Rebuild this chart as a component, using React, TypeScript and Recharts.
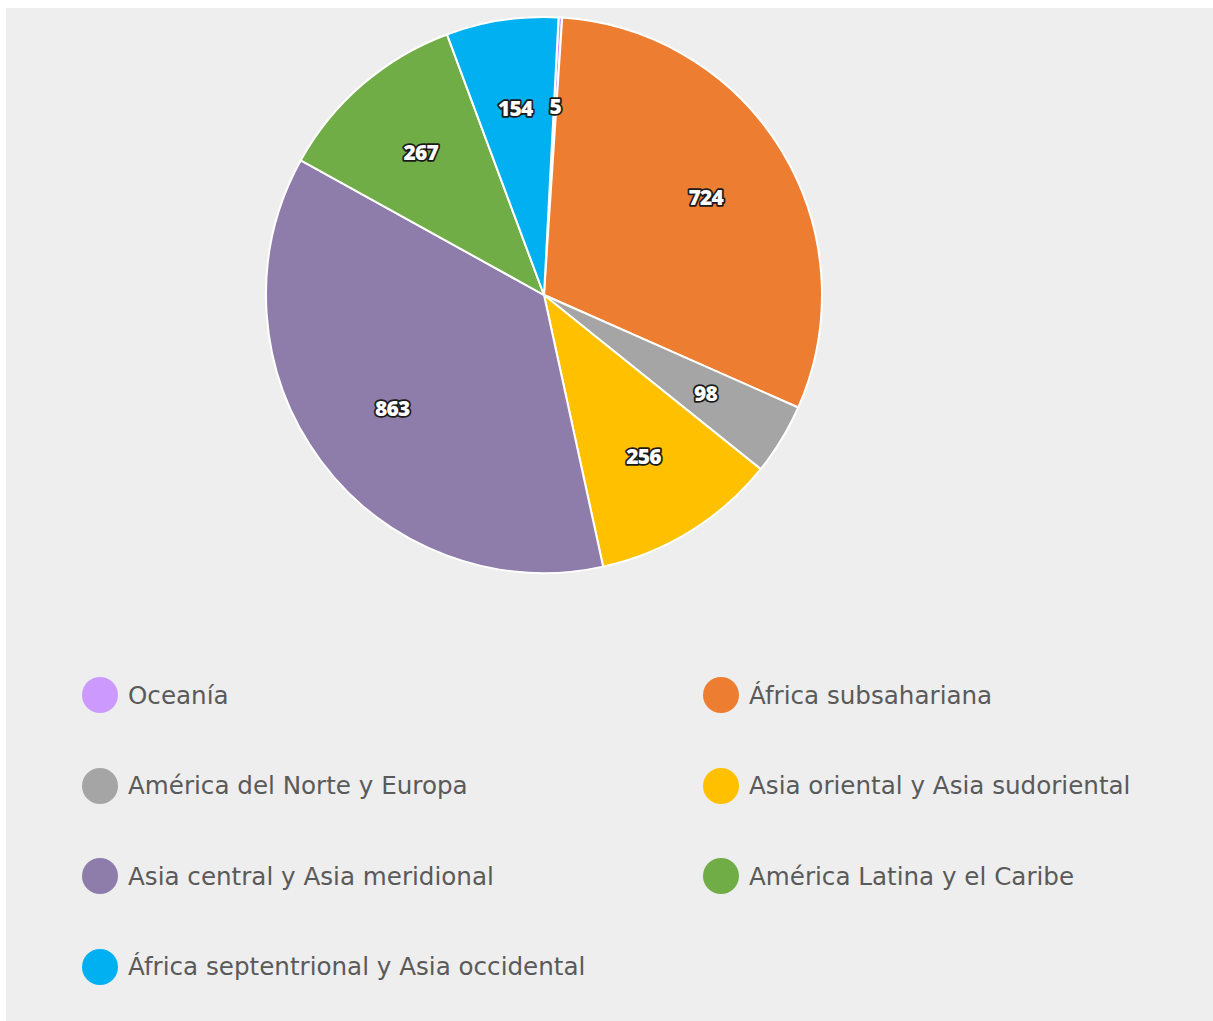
import React from "react";
import { PieChart, Pie, Cell, Legend } from "recharts";

const regions = [
  "Oceanía",
  "África subsahariana",
  "América del Norte y Europa",
  "Asia oriental y Asia sudoriental",
  "Asia central y Asia meridional",
  "América Latina y el Caribe",
  "África septentrional y Asia occidental",
];
const counts = [5, 724, 98, 256, 863, 267, 154];
const colors = ["#cc99ff", "#ed7d31", "#a5a5a5", "#ffc000", "#8e7cab", "#70ad47", "#00b0f0"];

const data = regions.map((name, i) => ({ name, value: counts[i] }));

const RAD = Math.PI / 180;

const renderLabel = (props: any) => {
  const { cx, cy, midAngle, outerRadius, value } = props;
  const r = outerRadius * 0.68;
  const x = cx + r * Math.cos(-midAngle * RAD);
  const y = cy + r * Math.sin(-midAngle * RAD);
  return (
    <text
      x={x}
      y={y}
      textAnchor="middle"
      dominantBaseline="central"
      fill="#ffffff"
      stroke="#1a1a1a"
      strokeWidth={3.5}
      strokeLinejoin="round"
      paintOrder="stroke"
      fontFamily="'Open Sans', sans-serif"
      fontWeight={800}
      fontSize={21}
      letterSpacing={-0.8}
    >
      {value}
    </text>
  );
};

const renderLegend = () => (
  <div
    style={{
      display: "grid",
      gridTemplateColumns: "621px 500px",
      fontFamily: "'DejaVu Sans', sans-serif",
      fontSize: 24.6,
      color: "#5a5a5a",
      textAlign: "left",
    }}
  >
    {data.map((d, i) => (
      <div key={d.name} style={{ display: "flex", alignItems: "center", height: 90.5 }}>
        <span
          style={{
            display: "inline-block",
            width: 36,
            height: 36,
            borderRadius: "50%",
            background: colors[i],
            marginRight: 10,
            flexShrink: 0,
          }}
        />
        {d.name}
      </div>
    ))}
  </div>
);

export default function App() {
  return (
    <div
      style={{
        position: "fixed",
        left: 6,
        top: 8,
        background: "#eeeeee",
        width: 1207,
        height: 1013,
      }}
    >
      <PieChart width={1207} height={1013} margin={{ top: 0, right: 0, bottom: 0, left: 0 }}>
        <Pie
          data={data}
          dataKey="value"
          nameKey="name"
          cx={538}
          cy={287}
          outerRadius={278}
          startAngle={87}
          endAngle={-273}
          stroke="#ffffff"
          strokeWidth={2}
          label={renderLabel}
          labelLine={false}
          isAnimationActive={false}
        >
          {data.map((d, i) => (
            <Cell key={d.name} fill={colors[i]} />
          ))}
        </Pie>
        <Legend
          layout="horizontal"
          verticalAlign="bottom"
          align="left"
          height={362}
          wrapperStyle={{ top: 642, left: 76, width: 1121, bottom: "auto" }}
          content={renderLegend}
        />
      </PieChart>
    </div>
  );
}
